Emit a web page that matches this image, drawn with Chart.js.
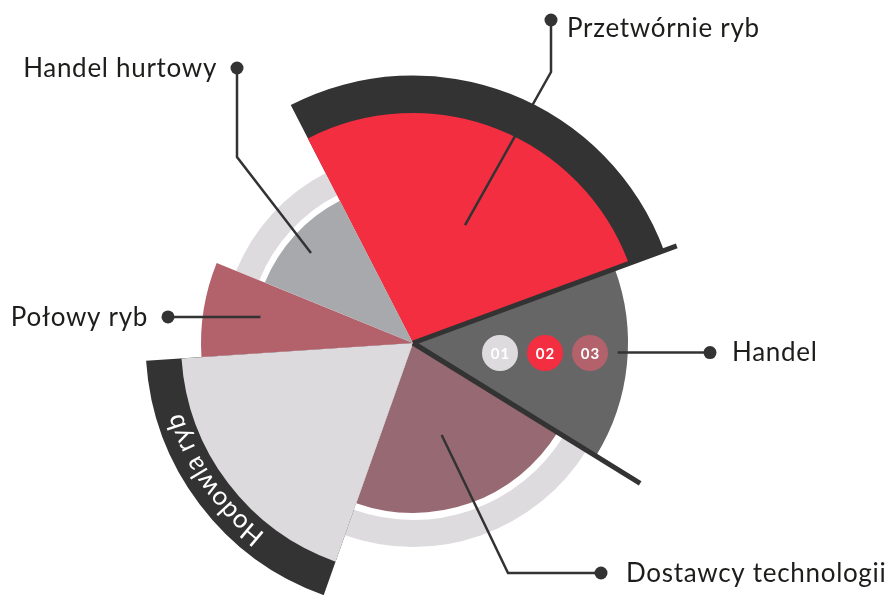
<!DOCTYPE html>
<html>
<head>
<meta charset="utf-8">
<script src="https://cdn.jsdelivr.net/npm/chart.js@4.4.1/dist/chart.umd.min.js"></script>
<style>
    html, body { margin: 0; padding: 0; background: #ffffff; }
</style>
</head>
<body>
<canvas id="myChart" width="890" height="595"></canvas>
<script>
// slices, clockwise from the top-left edge of "Przetwórnie ryb"
const labels = ['Przetwórnie ryb', 'Handel', 'Dostawcy technologii', 'Hodowla ryb', 'Połowy ryb', 'Handel hurtowy'];
const values = [92, 86, 68, 92.8, 84.8, 64];
const angles = [97, 51.9, 77.8, 66.7, 26, 40.6];
const colors = ['#f22e40', '#666666', '#976a73', '#dddadd', '#b3616b', '#a8a9ac'];

// outer bands behind the slices (dark arcs and grey rings) and the white gap before the rings
const bandValues = [107, 0, 81.6, 107, 0, 76.4];
const bandColors = ['#333333', '#333333', '#dddbde', '#333333', '#333333', '#dddbde'];
const gapValues = [0, 0, 70.8, 0, 0, 66.4];

const badges = ['01', '02', '03'];
const badgeColors = ['#dddbde', '#f22e40', '#b3616b'];

const fontFamily = 'Lato, "Open Sans", sans-serif';

// callout layout: where on the slice the leader starts, then elbow / dot / label on the page
const callouts = [
    { index: 0, along: 0.526, depth: 0.56, elbow: [551, 72], dot: [551, 20], text: [567, 37], align: 'left' },
    { index: 1, along: 0.441, depth: 0.953, elbow: null, dot: [710, null], text: [732, 361], align: 'left' },
    { index: 2, along: 0.527, depth: 0.567, elbow: [508, 573], dot: [601, 573], text: [626, 582], align: 'left' },
    { index: 4, along: 0.519, depth: 0.73, elbow: null, dot: [168, null], text: [148, 326], align: 'right' },
    { index: 5, along: 0.473, depth: 0.85, elbow: [237, 157], dot: [237, 68], text: [217, 77], align: 'right' }
];

function pointOnSlice(arc, along, radius) {
    const a = arc.startAngle + (arc.endAngle - arc.startAngle) * along;
    return { x: arc.x + Math.cos(a) * radius, y: arc.y + Math.sin(a) * radius };
}

const decorations = {
    id: 'decorations',
    afterDatasetsDraw(chart) {
        const ctx = chart.ctx;
        const scale = chart.scales.r;
        const arcs = chart.getDatasetMeta(0).data;
        const cx = scale.xCenter;
        const cy = scale.yCenter;

        // dark separators from the centre
        ctx.save();
        ctx.strokeStyle = '#333333';
        ctx.lineWidth = 5;
        ctx.lineCap = 'butt';
        [[arcs[0].endAngle, 112.4], [arcs[1].endAngle, 106.8]].forEach(([a, v]) => {
            const len = scale.getDistanceFromCenterForValue(v);
            ctx.beginPath();
            ctx.moveTo(cx, cy);
            ctx.lineTo(cx + Math.cos(a) * len, cy + Math.sin(a) * len);
            ctx.stroke();
        });
        ctx.restore();

        // numbered badges on the "Handel" slice
        ctx.save();
        ctx.textAlign = 'center';
        ctx.textBaseline = 'middle';
        ctx.font = 'bold 15px ' + fontFamily;
        ctx.letterSpacing = '1px';
        badges.forEach((b, i) => {
            const x = cx + 87 + i * 45;
            const y = cy + 10;
            ctx.fillStyle = badgeColors[i];
            ctx.beginPath();
            ctx.arc(x, y, 18, 0, Math.PI * 2);
            ctx.fill();
            ctx.fillStyle = '#ffffff';
            ctx.fillText(b, x + 0.5, y + 1);
        });
        ctx.restore();

        // callouts
        ctx.save();
        ctx.strokeStyle = '#333333';
        ctx.fillStyle = '#333333';
        ctx.lineWidth = 2.5;
        callouts.forEach(c => {
            const arc = arcs[c.index];
            const start = pointOnSlice(arc, c.along, arc.outerRadius * c.depth);
            const dot = { x: c.dot[0], y: c.dot[1] === null ? start.y : c.dot[1] };
            ctx.beginPath();
            ctx.moveTo(start.x, start.y);
            if (c.elbow) ctx.lineTo(c.elbow[0], c.elbow[1]);
            ctx.lineTo(dot.x, dot.y);
            ctx.stroke();
            ctx.beginPath();
            ctx.arc(dot.x, dot.y, 6.5, 0, Math.PI * 2);
            ctx.fill();

            ctx.fillStyle = '#1d1d1b';
            ctx.font = '26px ' + fontFamily;
            ctx.letterSpacing = '0.7px';
            ctx.textAlign = c.align;
            ctx.textBaseline = 'alphabetic';
            ctx.fillText(labels[c.index], c.text[0], c.text[1]);
            ctx.letterSpacing = '0px';
            ctx.fillStyle = '#333333';
        });
        ctx.restore();

        // curved label on the dark band of "Hodowla ryb"
        const arc = arcs[3];
        const text = labels[3];
        const r = scale.getDistanceFromCenterForValue((values[3] + bandValues[3]) / 2);
        ctx.save();
        ctx.font = '26px ' + fontFamily;
        ctx.fillStyle = '#ffffff';
        ctx.textAlign = 'center';
        ctx.textBaseline = 'middle';
        const spacing = 0.7;
        let total = 0;
        for (const ch of text) total += ctx.measureText(ch).width + spacing;
        const mid = arc.startAngle + (arc.endAngle - arc.startAngle) * 0.54;
        let a = mid - total / 2 / r;
        for (const ch of text) {
            const w = ctx.measureText(ch).width + spacing;
            const ca = a + (w / 2) / r;
            ctx.save();
            ctx.translate(cx + Math.cos(ca) * r, cy + Math.sin(ca) * r);
            ctx.rotate(ca + Math.PI / 2);
            ctx.fillText(ch, 0, 0);
            ctx.restore();
            a += w / r;
        }
        ctx.restore();
    }
};

const ctx = document.getElementById('myChart').getContext('2d');
const myChart = new Chart(ctx, {
    type: 'polarArea',
    data: {
        labels: labels,
        datasets: [{
            data: values,
            backgroundColor: colors,
            borderWidth: 0,
            angle: (c) => angles[c.dataIndex],
            clip: false
        }, {
            data: gapValues,
            backgroundColor: '#ffffff',
            borderWidth: 0,
            angle: (c) => angles[c.dataIndex],
            clip: false
        }, {
            data: bandValues,
            backgroundColor: bandColors,
            borderWidth: 0,
            angle: (c) => angles[c.dataIndex],
            clip: false
        }]
    },
    options: {
        responsive: false,
        animation: false,
        layout: {
            padding: { left: 163, top: 93, right: 227, bottom: 2 }
        },
        plugins: {
            legend: { display: false },
            tooltip: { enabled: false }
        },
        scales: {
            r: {
                min: 0,
                max: 100,
                startAngle: -27.2,
                ticks: { display: false },
                grid: { display: false },
                angleLines: { display: false },
                pointLabels: { display: false }
            }
        }
    },
    plugins: [decorations]
});
</script>
</body>
</html>
